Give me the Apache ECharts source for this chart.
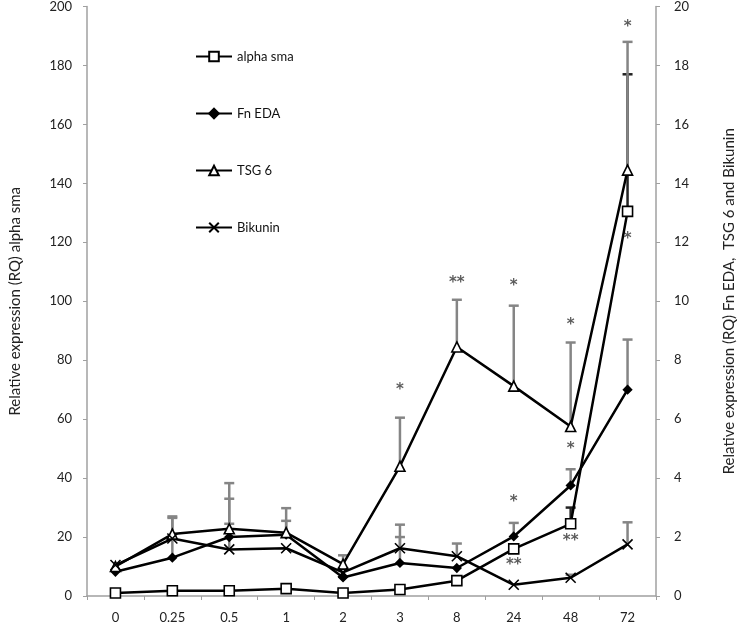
<!DOCTYPE html>
<html>
<head>
<meta charset="utf-8">
<script src="https://cdn.jsdelivr.net/npm/echarts@6/dist/echarts.min.js"></script>
<style>
  html, body { margin: 0; padding: 0; background: #fff; }
  #main { width: 745px; height: 628px; }
</style>
</head>
<body>
<div id="main"></div>
<script>
// time points (h)
var categories = ['0', '0.25', '0.5', '1', '2', '3', '8', '24', '48', '72'];

// alpha sma on left axis, the others on the right axis
var alphaSma = [1, 1.8, 1.8, 2.5, 1.0, 2.2, 5.2, 16, 24.5, 130.5];
var fnEda = [0.82, 1.3, 2.0, 2.08, 0.63, 1.12, 0.95, 2.02, 3.75, 7.0];
var tsg6 = [1.0, 2.1, 2.28, 2.15, 1.08, 4.4, 8.45, 7.12, 5.75, 14.45];
var bikunin = [1.05, 1.95, 1.58, 1.62, 0.8, 1.62, 1.35, 0.38, 0.62, 1.75];

// top of the error bars (null = none visible)
var alphaSmaTop = [null, null, null, null, null, null, null, null, 30, 177];
var fnEdaTop = [null, 2.65, 3.3, 2.55, null, 2.0, null, 2.48, 4.3, 8.7];
var tsg6Top = [null, 2.7, 3.83, 2.98, 1.38, 6.05, 10.05, 9.85, 8.6, 18.8];
var bikuninTop = [null, null, 2.45, null, null, 2.42, 1.78, null, 0.72, 2.5];

// significance marks, right axis units
var starCats = ['3', '8', '24', '24', '24', '48', '48', '48', '72', '72'];
var starVals = [7.0, 10.6, 10.5, 3.18, 1.05, 9.2, 4.97, 1.87, 19.3, 12.1];
var starTexts = ['*', '**', '*', '*', '**', '*', '*', '**', '*', '*'];

var leftTicks = [0, 20, 40, 60, 80, 100, 120, 140, 160, 180, 200];
var rightTicks = [0, 2, 4, 6, 8, 10, 12, 14, 16, 18, 20];

var font = 'Lato, "Open Sans", sans-serif';
var chart = echarts.init(document.getElementById('main'));

function errSeries(name, vals, tops, axis, color) {
    var data = [];
    for (var i = 0; i < vals.length; i++) {
        if (tops[i] != null) data.push([i, vals[i], tops[i]]);
    }
    return {
        type: 'custom',
        name: name + ' err',
        yAxisIndex: axis,
        z: 1,
        silent: true,
        data: data,
        renderItem: function (params, api) {
            var p0 = api.coord([api.value(0), api.value(1)]);
            var p1 = api.coord([api.value(0), api.value(2)]);
            return {
                type: 'group',
                children: [
                    { type: 'line', shape: { x1: p0[0], y1: p0[1], x2: p1[0], y2: p1[1] },
                      style: { stroke: color, lineWidth: 2.5 } },
                    { type: 'line', shape: { x1: p1[0] - 5, y1: p1[1], x2: p1[0] + 5, y2: p1[1] },
                      style: { stroke: color, lineWidth: 2.5 } }
                ]
            };
        }
    };
}

function lineSeries(name, vals, axis, symbol, size, fill) {
    return {
        type: 'line',
        name: name,
        yAxisIndex: axis,
        data: vals,
        z: 3,
        symbol: symbol,
        symbolSize: size,
        showAllSymbol: true,
        lineStyle: { color: '#000', width: 2.5 },
        itemStyle: { color: fill, borderColor: '#000', borderWidth: 1.6 }
    };
}

var starData = starCats.map(function (c, i) { return [c, starVals[i], starTexts[i]]; });

var option = {
    backgroundColor: '#fff',
    animation: false,
    textStyle: { fontFamily: font },
    grid: { left: 87, right: 83, top: 5, bottom: 32 },
    legend: {
        orient: 'vertical',
        left: 190,
        top: 45,
        itemGap: 44,
        itemWidth: 36,
        itemHeight: 12,
        textStyle: { fontSize: 13, color: '#111', fontFamily: font },
        data: ['alpha sma', 'Fn EDA', 'TSG 6', 'Bikunin']
    },
    xAxis: {
        type: 'category',
        data: categories,
        boundaryGap: true,
        axisLine: { lineStyle: { color: '#a0a0a0', width: 1.5 } },
        axisTick: { show: true, length: 4, lineStyle: { color: '#a0a0a0' } },
        axisLabel: { color: '#222', fontSize: 13, margin: 15, fontFamily: font }
    },
    yAxis: [
        {
            type: 'value', min: 0, max: 200, interval: 20,
            name: 'Relative expression (RQ) alpha sma',
            nameLocation: 'middle', nameGap: 64, nameRotate: 90,
            nameTextStyle: { fontSize: 15, color: '#222', fontFamily: font },
            splitLine: { show: false },
            axisLine: { show: true, lineStyle: { color: '#a0a0a0', width: 1.5 } },
            axisTick: { show: true, length: 4, lineStyle: { color: '#a0a0a0' } },
            axisLabel: { color: '#222', fontSize: 13, margin: 15, fontFamily: font,
                formatter: function (v) { return leftTicks.indexOf(v) >= 0 ? v : ''; } }
        },
        {
            type: 'value', min: 0, max: 20, interval: 2,
            name: 'Relative expression (RQ) Fn EDA,  TSG 6 and Bikunin',
            nameLocation: 'middle', nameGap: 66, nameRotate: 90,
            nameTextStyle: { fontSize: 15, color: '#222', fontFamily: font },
            splitLine: { show: false },
            axisLine: { show: true, lineStyle: { color: '#a0a0a0', width: 1.5 } },
            axisTick: { show: true, length: 4, lineStyle: { color: '#a0a0a0' } },
            axisLabel: { color: '#222', fontSize: 13, margin: 18, fontFamily: font,
                formatter: function (v) { return rightTicks.indexOf(v) >= 0 ? v : ''; } }
        }
    ],
    series: [
        errSeries('alpha sma', alphaSma, alphaSmaTop, 0, '#222'),
        errSeries('Fn EDA', fnEda, fnEdaTop, 1, '#858585'),
        errSeries('TSG 6', tsg6, tsg6Top, 1, '#858585'),
        errSeries('Bikunin', bikunin, bikuninTop, 1, '#858585'),
        lineSeries('alpha sma', alphaSma, 0, 'rect', 10, '#fff'),
        lineSeries('Fn EDA', fnEda, 1, 'diamond', 8, '#000'),
        lineSeries('TSG 6', tsg6, 1, 'triangle', 10, '#fff'),
        lineSeries('Bikunin', bikunin, 1, 'path://M0,0L10,10M10,0L0,10', 10, '#000'),
        {
            type: 'scatter',
            name: 'stars',
            yAxisIndex: 1,
            symbolSize: 1,
            itemStyle: { color: 'rgba(0,0,0,0)' },
            silent: true,
            data: starData,
            label: {
                show: true, position: 'inside',
                formatter: function (p) { return p.value[2]; },
                fontSize: 15, fontWeight: 'bold', color: '#333',
                fontFamily: '"DejaVu Sans", sans-serif'
            }
        }
    ]
};

chart.setOption(option);
</script>
</body>
</html>
